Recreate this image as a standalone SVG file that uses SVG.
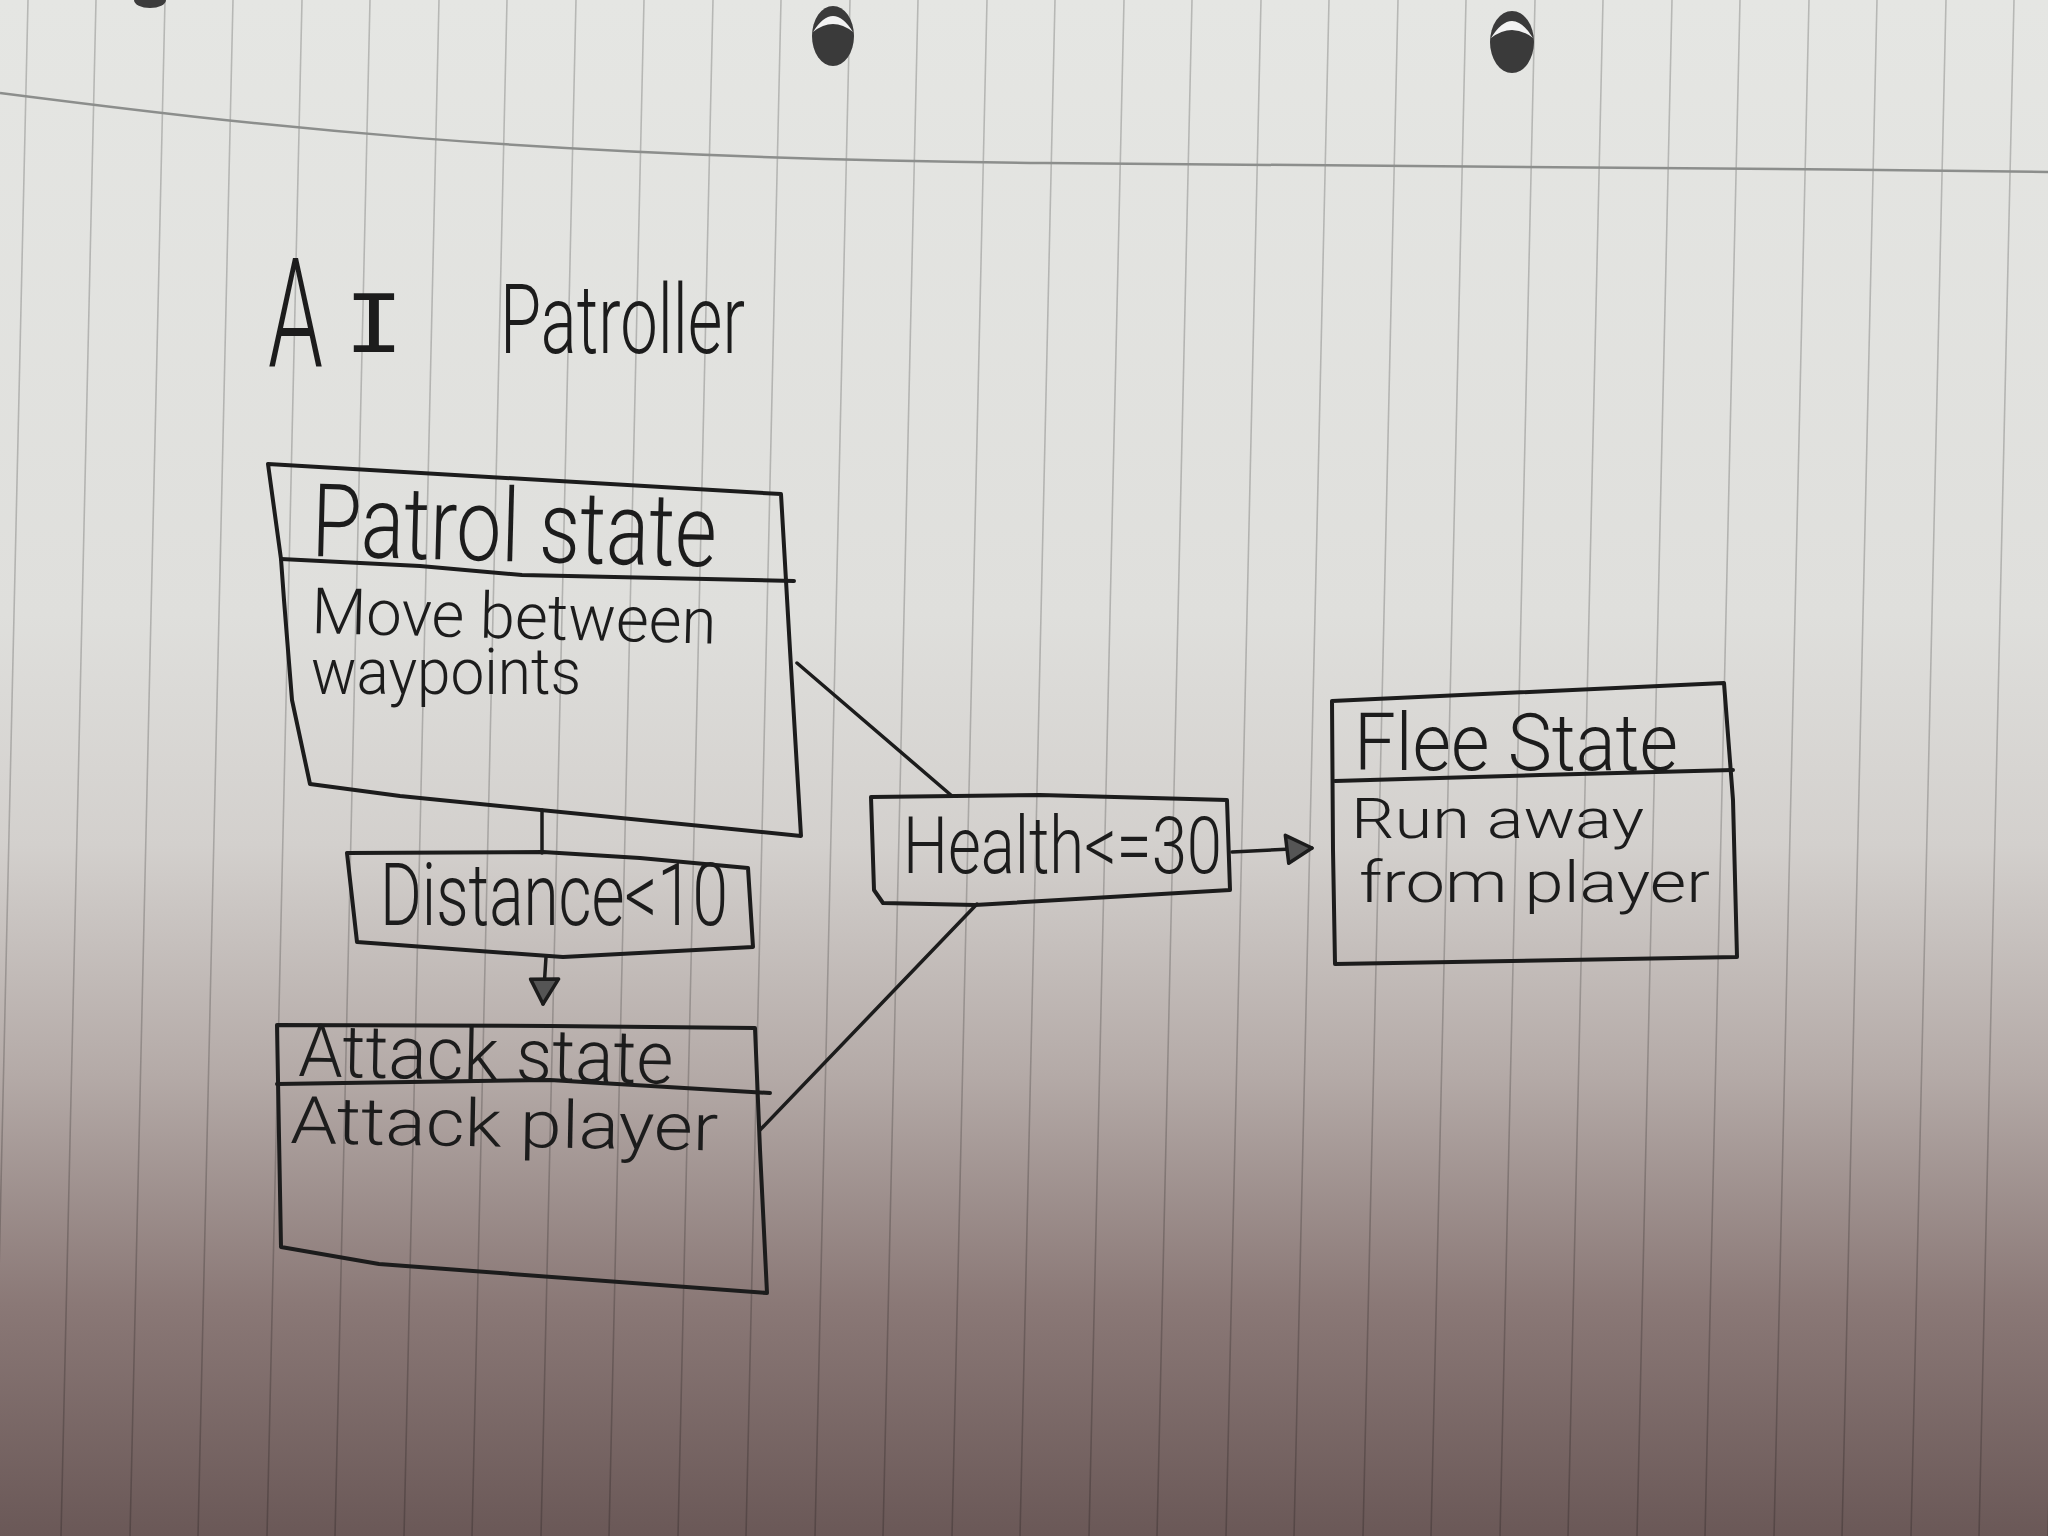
<svg xmlns="http://www.w3.org/2000/svg" width="2048" height="1536" viewBox="0 0 2048 1536">
  <defs>
    <linearGradient id="paper" x1="0" y1="0" x2="0" y2="1">
      <stop offset="0" stop-color="#e5e6e3"/>
      <stop offset="0.4" stop-color="#dfdfdc"/>
      <stop offset="0.55" stop-color="#d3d0cd"/>
      <stop offset="0.7" stop-color="#b4aaa7"/>
      <stop offset="0.85" stop-color="#8a7876"/>
      <stop offset="1" stop-color="#6a5857"/>
    </linearGradient>
    <marker id="arrow" markerUnits="userSpaceOnUse" markerWidth="40" markerHeight="40" refX="30" refY="18" orient="auto">
      <path d="M4,4 L30,18 L6,32 Z" fill="#555" stroke="#1c1c1c" stroke-width="3.5" stroke-linejoin="round"/>
    </marker>
  </defs>
  <style>
    .hand { font-family: Roboto, "Liberation Sans", sans-serif; font-weight: 300; fill: #1c1c1c; }
    .box { fill: none; stroke: #1c1c1c; stroke-width: 4; stroke-linejoin: round; stroke-linecap: round; }
    .edge { fill: none; stroke: #1c1c1c; stroke-width: 3.5; stroke-linecap: round; }
    .rule { stroke: #000; stroke-opacity: 0.2; stroke-width: 1.6; }
  </style>

  <!-- paper -->
  <rect x="0" y="0" width="2048" height="1536" fill="url(#paper)"/>
  <g id="rules">
    <line class="rule" x1="28" y1="0" x2="-7" y2="1536"/>
    <line class="rule" x1="96" y1="0" x2="61" y2="1536"/>
    <line class="rule" x1="165" y1="0" x2="130" y2="1536"/>
    <line class="rule" x1="233" y1="0" x2="198" y2="1536"/>
    <line class="rule" x1="302" y1="0" x2="267" y2="1536"/>
    <line class="rule" x1="370" y1="0" x2="335" y2="1536"/>
    <line class="rule" x1="439" y1="0" x2="404" y2="1536"/>
    <line class="rule" x1="507" y1="0" x2="472" y2="1536"/>
    <line class="rule" x1="576" y1="0" x2="541" y2="1536"/>
    <line class="rule" x1="644" y1="0" x2="609" y2="1536"/>
    <line class="rule" x1="713" y1="0" x2="678" y2="1536"/>
    <line class="rule" x1="781" y1="0" x2="746" y2="1536"/>
    <line class="rule" x1="850" y1="0" x2="815" y2="1536"/>
    <line class="rule" x1="918" y1="0" x2="883" y2="1536"/>
    <line class="rule" x1="987" y1="0" x2="952" y2="1536"/>
    <line class="rule" x1="1055" y1="0" x2="1020" y2="1536"/>
    <line class="rule" x1="1124" y1="0" x2="1089" y2="1536"/>
    <line class="rule" x1="1192" y1="0" x2="1157" y2="1536"/>
    <line class="rule" x1="1261" y1="0" x2="1226" y2="1536"/>
    <line class="rule" x1="1329" y1="0" x2="1294" y2="1536"/>
    <line class="rule" x1="1398" y1="0" x2="1363" y2="1536"/>
    <line class="rule" x1="1466" y1="0" x2="1431" y2="1536"/>
    <line class="rule" x1="1535" y1="0" x2="1500" y2="1536"/>
    <line class="rule" x1="1603" y1="0" x2="1568" y2="1536"/>
    <line class="rule" x1="1672" y1="0" x2="1637" y2="1536"/>
    <line class="rule" x1="1740" y1="0" x2="1705" y2="1536"/>
    <line class="rule" x1="1809" y1="0" x2="1774" y2="1536"/>
    <line class="rule" x1="1877" y1="0" x2="1842" y2="1536"/>
    <line class="rule" x1="1946" y1="0" x2="1911" y2="1536"/>
    <line class="rule" x1="2014" y1="0" x2="1979" y2="1536"/>
    <line class="rule" x1="2083" y1="0" x2="2048" y2="1536"/>
  </g>
  <path d="M0,93 C250,125 520,158 1045,163 S1750,168 2048,172" fill="none" stroke="#8c8e8c" stroke-width="2.5"/>
  <g id="holes">
    <ellipse cx="150" cy="0" rx="16" ry="8" fill="#3c3c3c"/>
    <ellipse cx="833" cy="36" rx="21" ry="30" fill="#3a3a3a"/>
    <path d="M813,32 Q833,0 853,32 Q833,16 813,32 Z" fill="#f2f2f2"/>
    <ellipse cx="1512" cy="42" rx="22" ry="31" fill="#3a3a3a"/>
    <path d="M1491,38 Q1512,4 1533,38 Q1512,22 1491,38 Z" fill="#f2f2f2"/>
  </g>

  <!-- title -->
  <text id="title" class="hand" y="366"><tspan x="268" font-size="152" textLength="55" lengthAdjust="spacingAndGlyphs">A</tspan><tspan x="344" y="352" font-size="80" textLength="60" lengthAdjust="spacingAndGlyphs" font-family="'DejaVu Sans Mono', monospace" font-weight="normal">I</tspan><tspan> </tspan><tspan x="500" y="353" font-size="96" textLength="245" lengthAdjust="spacingAndGlyphs">Patroller</tspan></text>

  <!-- connectors -->
  <g id="connectors">
    <line class="edge" x1="542" y1="810" x2="542" y2="853"/>
    <line class="edge" x1="546" y1="957" x2="543" y2="1004" marker-end="url(#arrow)"/>
    <line class="edge" x1="797" y1="663" x2="952" y2="796"/>
    <line class="edge" x1="760" y1="1130" x2="977" y2="904"/>
    <line class="edge" x1="1232" y1="852" x2="1312" y2="848" marker-end="url(#arrow)"/>
  </g>

  <!-- Patrol state -->
  <g id="patrol-state">
    <path class="box" d="M268,464 L781,494 L790,650 L801,836 L400,796 L310,784 L292,700 L284,600 L281,559 Z"/>
    <path class="box" d="M281,559 L420,566 L522,575 L794,581"/>
    <text class="hand" x="311" y="556" font-size="102" textLength="405" lengthAdjust="spacingAndGlyphs" transform="rotate(1.5 311 556)">Patrol state</text>
    <text class="hand" x="311" y="633" font-size="64" textLength="405" lengthAdjust="spacingAndGlyphs" transform="rotate(1.5 311 633)">Move between</text>
    <text class="hand" x="311" y="694" font-size="64" textLength="270" lengthAdjust="spacingAndGlyphs">waypoints</text>
  </g>

  <!-- Distance<10 -->
  <g id="distance-condition">
    <path class="box" d="M347,853 L543,852 L640,858 L748,868 L753,947 L563,957 L357,942 Z"/>
    <text class="hand" x="380" y="925" font-size="87" textLength="348" lengthAdjust="spacingAndGlyphs">Distance&lt;10</text>
  </g>

  <!-- Attack state -->
  <g id="attack-state">
    <path class="box" d="M277,1025 L550,1026 L755,1028 L760,1150 L767,1293 L379,1264 L281,1247 Z"/>
    <path class="box" d="M277,1084 L550,1080 L770,1093"/>
    <text class="hand" x="298" y="1076" font-size="74" textLength="375" lengthAdjust="spacingAndGlyphs" transform="rotate(1.2 298 1076)">Attack state</text>
    <text class="hand" x="290" y="1143" font-size="66" textLength="428" lengthAdjust="spacingAndGlyphs" transform="rotate(1 290 1143)">Attack player</text>
  </g>

  <!-- Health<=30 -->
  <g id="health-condition">
    <path class="box" d="M871,797 L1040,795 L1227,800 L1230,890 L975,905 L883,903 L874,890 Z"/>
    <text class="hand" x="903" y="873" font-size="80" textLength="319" lengthAdjust="spacingAndGlyphs">Health&lt;=30</text>
  </g>

  <!-- Flee State -->
  <g id="flee-state">
    <path class="box" d="M1332,701 L1724,683 L1733,800 L1737,957 L1335,964 L1333,850 Z"/>
    <path class="box" d="M1335,781 L1540,775 L1733,770"/>
    <text class="hand" x="1354" y="770" font-size="80" textLength="324" lengthAdjust="spacingAndGlyphs">Flee State</text>
    <text class="hand" x="1351" y="838" font-size="56" textLength="293" lengthAdjust="spacingAndGlyphs">Run away</text>
    <text class="hand" x="1359" y="902" font-size="58" textLength="351" lengthAdjust="spacingAndGlyphs">from player</text>
  </g>
</svg>
